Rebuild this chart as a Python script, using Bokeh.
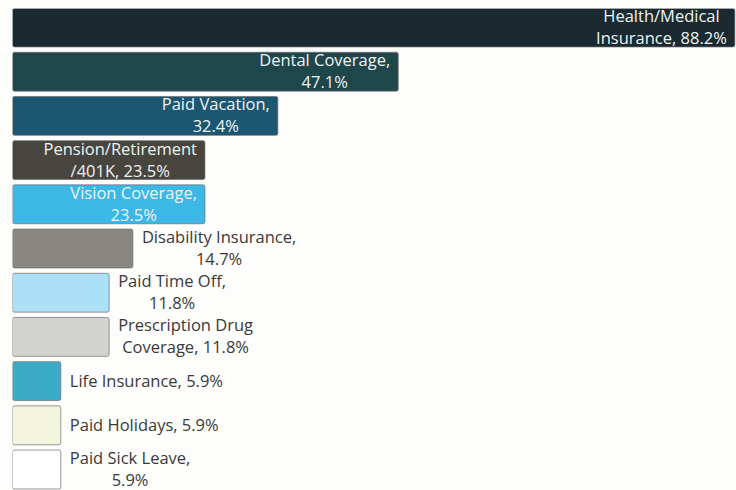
from bokeh.plotting import figure
from bokeh.models import ColumnDataSource, Range1d
from bokeh.core.properties import value
from bokeh.embed import file_html
from bokeh.resources import INLINE

# ---- data ----
categories = ["Health/Medical Insurance", "Dental Coverage", "Paid Vacation",
              "Pension/Retirement/401K", "Vision Coverage", "Disability Insurance",
              "Paid Time Off", "Prescription Drug Coverage", "Life Insurance",
              "Paid Holidays", "Paid Sick Leave"]
percent = [88.2, 47.1, 32.4, 23.5, 23.5, 14.7, 11.8, 11.8, 5.9, 5.9, 5.9]
# where the label line breaks: inside the name (after the given first part), before the value (None), or nowhere ("")
first_line = ["Health/Medical", None, None, "Pension/Retirement", None, None,
              None, "Prescription Drug", "", "", None]
colors = ["#1a2a30", "#1f464b", "#1d5670", "#48453f", "#3cb7e6", "#8a8782",
          "#ace0f6", "#d2d2cf", "#3cabc6", "#f3f4de", "#ffffff"]
inside = [True, True, True, True, True, False, False, False, False, False, False]

def make_label(cat, v, fl):
    if fl is None:
        return f"{cat},\n{v:.1f}%"
    if fl == "":
        return f"{cat}, {v:.1f}%"
    return fl + "\n" + cat[len(fl):].strip() + f", {v:.1f}%"

labels = [make_label(c, v, f) for c, v, f in zip(categories, percent, first_line)]
rows = list(range(len(categories)))

src = ColumnDataSource(dict(y=rows, v=percent, c=colors, lab=labels))
in_idx = [i for i in rows if inside[i]]
out_idx = [i for i in rows if not inside[i]]
src_in = ColumnDataSource(dict(y=[rows[i] for i in in_idx], v=[percent[i] for i in in_idx],
                               lab=[labels[i] for i in in_idx]))
src_out = ColumnDataSource(dict(y=[rows[i] for i in out_idx], v=[percent[i] for i in out_idx],
                                lab=[labels[i] for i in out_idx]))

p = figure(width=736, height=490, output_backend="svg", toolbar_location=None,
           x_range=Range1d(0, 88.4), y_range=Range1d(10.475, -0.43),
           min_border_left=12, min_border_right=0, min_border_top=8, min_border_bottom=0)
p.axis.visible = False
p.grid.visible = False
p.outline_line_color = None
p.background_fill_color = "#fdfdfb"
p.border_fill_color = "#fdfdfb"

p.hbar(y="y", left=0, right="v", height=0.88, fill_color="c", line_color="#6f6f6f",
       line_alpha=0.7, line_width=1, border_radius=2, source=src)

font = value("Open Sans")
p.text(x="v", y="y", text="lab", source=src_in, x_offset=-8, y_offset=-1, anchor="center_right",
       text_align="center", text_baseline="middle", text_font=font,
       text_font_size="16.5px", text_color="#eef3f4", text_line_height=0.95)
p.text(x="v", y="y", text="lab", source=src_out, x_offset=9, y_offset=-1, anchor="center_left",
       text_align="center", text_baseline="middle", text_font=font,
       text_font_size="16.5px", text_color="#3a3a3a", text_line_height=0.95)

open("out.html", "w").write(file_html(p, INLINE))
